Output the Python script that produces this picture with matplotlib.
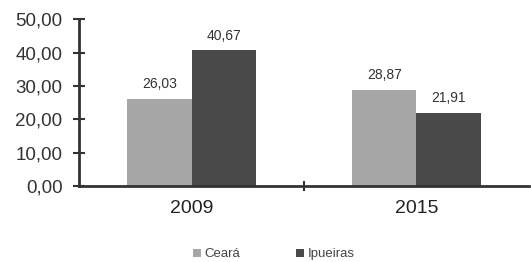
import matplotlib.pyplot as plt
import numpy as np

plt.rcParams['font.family'] = ['Liberation Sans', 'DejaVu Sans']

# Data
anos = ['2009', '2015']
ceara = [26.03, 28.87]
ipueiras = [40.67, 21.91]
yticks = [0, 10, 20, 30, 40, 50]

fig = plt.figure(figsize=(5.31, 2.62), dpi=100)
ax = fig.add_axes([0.149, 0.29, 0.847, 0.637])

x = np.arange(len(anos))
w = 0.285
b1 = ax.bar(x - w / 2, ceara, w, color='#a6a6a6', label='Ceará')
b2 = ax.bar(x + w / 2, ipueiras, w, color='#494949', label='Ipueiras')

def fmt(v):
    return ('%.2f' % v).replace('.', ',')

for bars, vals in ((b1, ceara), (b2, ipueiras)):
    for r, v in zip(bars, vals):
        ax.text(r.get_x() + r.get_width() / 2, v + 2.3, fmt(v),
                ha='center', va='bottom', fontsize=10, color='#333333')

ax.set_xlim(-0.5, 1.5)
ax.set_ylim(0, 50)
ax.set_yticks(yticks)
ax.set_yticklabels([fmt(t) for t in yticks], fontsize=13.5, color='#333333')
ax.set_xticks(x)
ax.set_xticklabels(anos, fontsize=14, color='#222222')
ax.tick_params(axis='x', length=0, pad=10)
ax.tick_params(axis='y', direction='inout', length=8, width=1.5, color='#333333', pad=8)
# category separator tick
ax.plot([0.5, 0.5], [-1.2, 1.2], color='#333333', lw=1.5, clip_on=False)

for s in ('top', 'right'):
    ax.spines[s].set_visible(False)
for s in ('left', 'bottom'):
    ax.spines[s].set_color('#333333')
    ax.spines[s].set_linewidth(2)

ax.legend(loc='center', bbox_to_anchor=(0.433, -0.41), ncol=2, frameon=False,
          fontsize=9.5, handlelength=0.6, handleheight=0.6, handletextpad=0.3,
          columnspacing=4.2, labelcolor='#444444')

fig.savefig('out.png', dpi=100)
